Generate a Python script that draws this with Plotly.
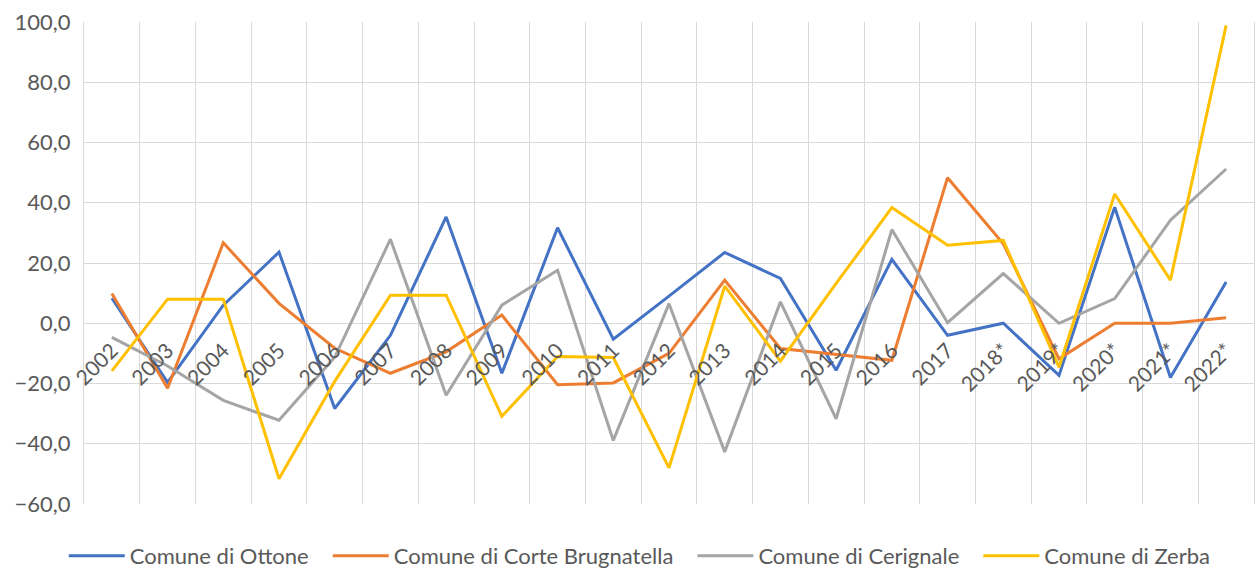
import plotly.graph_objects as go

years = ["2002", "2003", "2004", "2005", "2006", "2007", "2008", "2009", "2010", "2011",
         "2012", "2013", "2014", "2015", "2016", "2017", "2018*", "2019*", "2020*", "2021*", "2022*"]

ottone = [8.3, -19.6, 6.0, 23.6, -28.3, -4.0, 35.3, -16.6, 31.7, -5.3,
          9.0, 23.5, 14.9, -15.6, 21.2, -4.0, 0.0, -17.3, 38.5, -18.0, 13.7]
corte_brugnatella = [9.9, -21.6, 26.7, 6.6, -8.3, -16.6, -9.5, 2.7, -20.4, -19.8,
                     -10.0, 14.3, -8.4, -10.4, -12.3, 48.3, 26.4, -11.8, 0.0, 0.0, 1.8]
cerignale = [-4.7, -14.2, -25.6, -32.2, -11.3, 27.9, -23.9, 6.0, 17.6, -38.9,
             6.5, -42.7, 7.1, -31.7, 31.1, 0.2, 16.5, 0.0, 8.2, 34.2, 51.2]
zerba = [-15.8, 8.0, 8.0, -51.6, -19.3, 9.3, 9.3, -30.9, -11.0, -11.4,
         -48.0, 12.3, -12.6, 13.2, 38.4, 25.9, 27.5, -14.6, 42.9, 14.3, 98.9]

names = ["Comune di Ottone", "Comune di Corte Brugnatella", "Comune di Cerignale", "Comune di Zerba"]
colors = ["#4472C4", "#ED7D31", "#A5A5A5", "#FFC000"]
values = [ottone, corte_brugnatella, cerignale, zerba]

PAD = "\u00a0\u00a0\u2009"  # extra spacing between legend entries

fig = go.Figure()
for i, (name, vals, col) in enumerate(zip(names, values, colors)):
    label = name + (PAD if i < len(names) - 1 else "")
    fig.add_trace(go.Scatter(x=years, y=vals, name=label, mode="lines",
                             line=dict(color=col, width=3)))

font_family = "Lato, Carlito, Calibri, sans-serif"
grid = "#D9D9D9"
fig.update_layout(
    width=1255, height=568,
    margin=dict(l=84, r=1, t=22, b=64, autoexpand=False),
    paper_bgcolor="white", plot_bgcolor="white",
    separators=",.",
    font=dict(family=font_family, size=21, color="#595959"),
    showlegend=True,
    legend=dict(orientation="h", x=0.475, xanchor="center", y=-0.108, yanchor="middle",
                itemwidth=56, traceorder="normal",
                font=dict(size=22, color="#595959")),
    xaxis=dict(type="category", tickson="boundaries", showgrid=True, gridcolor=grid,
               gridwidth=1.3, tickangle=-45, ticks="", ticklabelstandoff=10,
               showline=False, zeroline=False,
               anchor="free", position=0.375, range=[-0.5, 20.5], automargin=False,
               tickfont=dict(size=21, color="#595959")),
    yaxis=dict(range=[-60, 100], dtick=20, tickformat=".1f", showgrid=True,
               gridcolor=grid, gridwidth=1.3, zeroline=True, zerolinecolor=grid,
               zerolinewidth=1.3, showline=True, linecolor=grid, linewidth=1.3, mirror=True,
               ticks="", ticklabelstandoff=8, automargin=False,
               tickfont=dict(size=22, color="#595959")),
)

fig.write_html("out.html", config={"displayModeBar": False},
               post_script="document.body.style.margin='0';document.body.style.overflow='hidden';")
